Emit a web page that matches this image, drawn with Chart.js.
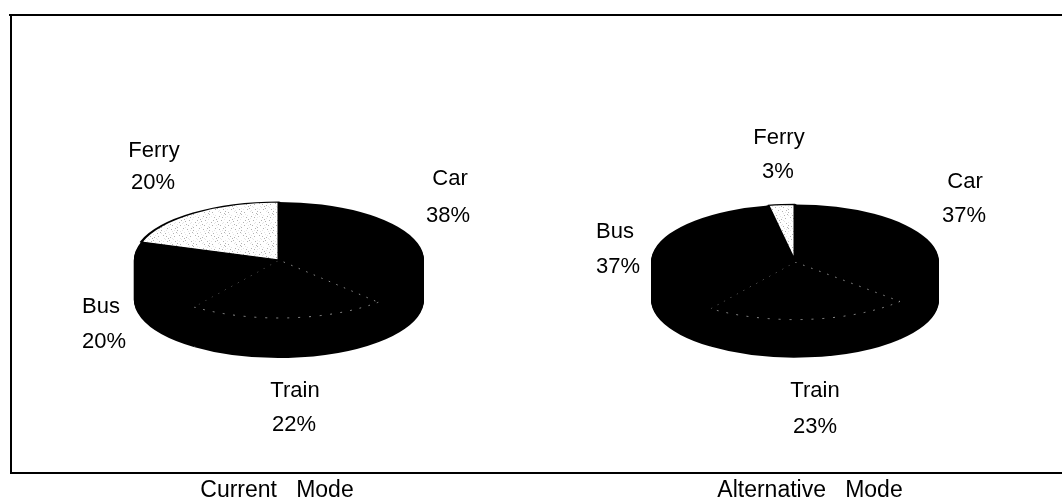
<!DOCTYPE html>
<html>
<head>
<meta charset="utf-8">
<style>
  html, body { margin: 0; padding: 0; background: #fff; width: 1062px; height: 498px; overflow: hidden; }
  .frameTop, .frameLeft, .frameBottom { position: absolute; background: #000; }
  .frameTop { left: 9px; top: 14px; width: 1053px; height: 2px; }
  .frameLeft { left: 10px; top: 14px; width: 2px; height: 460px; }
  .frameBottom { left: 10px; top: 472px; width: 1052px; height: 2px; }
  canvas { position: absolute; top: 0; }
  #currentPie { left: 0; }
  #alternativePie { left: 531px; }
</style>
<script src="https://cdn.jsdelivr.net/npm/chart.js@4/dist/chart.umd.min.js"></script>
</head>
<body>
<div class="frameTop"></div>
<div class="frameLeft"></div>
<div class="frameBottom"></div>
<canvas id="currentPie" width="531" height="498"></canvas>
<canvas id="alternativePie" width="531" height="498"></canvas>
<script>
const categories = ['Car', 'Train', 'Bus', 'Ferry'];
const currentShares = [38, 22, 20, 20];
const alternativeShares = [37, 23, 37, 3];
const currentTitle = 'Current   Mode';
const alternativeTitle = 'Alternative   Mode';

// Label anchors in canvas pixels per category: name x, name baseline, share x, share baseline
const currentLabelPos = [[450, 185, 448, 222], [295, 397, 294, 431], [101, 313, 104, 348], [154, 157, 153, 189]];
const alternativeLabelPos = [[434, 188, 433, 222], [284, 397, 284, 433], [84, 238, 87, 273], [248, 144, 247, 178]];

const FONT = '"Liberation Sans", Arial, sans-serif';

// Stippled fill for the light slice
function stipple() {
  const tile = document.createElement('canvas');
  tile.width = tile.height = 16;
  const c = tile.getContext('2d');
  c.fillStyle = '#fff';
  c.fillRect(0, 0, 16, 16);
  c.fillStyle = '#9a9a9a';
  [[1,2],[5,1],[9,3],[13,1],[3,6],[7,5],[11,7],[15,5],[1,10],[6,9],[10,11],[14,9],[4,13],[8,14],[12,13],[0,15]]
    .forEach(p => c.fillRect(p[0], p[1], 1, 1));
  return c.createPattern(tile, 'repeat');
}

// Squashes the pie into an ellipse and extrudes it into a solid disc
const tiltedDisc = {
  id: 'tiltedDisc',
  beforeDatasetDraw(chart, args, opts) {
    const ctx = chart.ctx;
    const arcs = chart.getDatasetMeta(args.index).data;
    const cx = arcs[0].x, cy = arcs[0].y;
    ctx.save();
    ctx.translate(cx, cy);
    ctx.scale(1, opts.tilt);
    ctx.translate(-cx, -cy);
    for (let d = opts.depth; d > 0; d--) {
      ctx.save();
      ctx.translate(0, d / opts.tilt);
      arcs.forEach(arc => {
        const saved = arc.options;
        arc.options = Object.assign({}, saved, { backgroundColor: '#000', borderWidth: 0 });
        arc.draw(ctx);
        arc.options = saved;
      });
      ctx.restore();
    }
  },
  afterDatasetDraw(chart) {
    chart.ctx.restore();
  }
};

// Two-line category labels and the caption under the frame
const sliceLabels = {
  id: 'sliceLabels',
  afterDraw(chart, args, opts) {
    const ctx = chart.ctx;
    const values = chart.data.datasets[0].data;
    ctx.save();
    ctx.fillStyle = '#000';
    ctx.textAlign = 'center';
    ctx.textBaseline = 'alphabetic';
    ctx.font = '22px ' + FONT;
    chart.data.labels.forEach((name, i) => {
      const p = opts.positions[i];
      ctx.fillText(name, p[0], p[1]);
      ctx.fillText(values[i] + '%', p[2], p[3]);
    });
    ctx.font = '23px ' + FONT;
    ctx.fillText(opts.caption, opts.captionX, 497);
    ctx.restore();
  }
};

function makePie(id, values, positions, caption, captionX, center, radius, tilt, depth) {
  const ink = ['#000', '#000', '#000', stipple()];
  return new Chart(document.getElementById(id), {
    type: 'pie',
    data: {
      labels: categories,
      datasets: [{
        data: values,
        radius: radius,
        backgroundColor: ink,
        borderColor: ['#000', '#c8c8c8', '#000', '#000'],
        borderWidth: [0, 1, 0, 3],
        borderDash: ctx => (ctx.dataIndex === 1 ? [2, 9] : []),
        borderAlign: 'center'
      }]
    },
    options: {
      responsive: false,
      animation: false,
      layout: {
        padding: {
          left: center[0] - radius,
          right: 531 - center[0] - radius,
          top: center[1] - radius,
          bottom: 498 - center[1] - radius
        }
      },
      plugins: {
        legend: { display: false },
        tooltip: { enabled: false },
        tiltedDisc: { tilt: tilt, depth: depth },
        sliceLabels: { positions: positions, caption: caption, captionX: captionX }
      }
    },
    plugins: [tiltedDisc, sliceLabels]
  });
}

makePie('currentPie', currentShares, currentLabelPos, currentTitle, 277, [279, 260], 145, 0.4, 40);
makePie('alternativePie', alternativeShares, alternativeLabelPos, alternativeTitle, 279, [264, 262], 144, 0.4, 38);
</script>
</body>
</html>
